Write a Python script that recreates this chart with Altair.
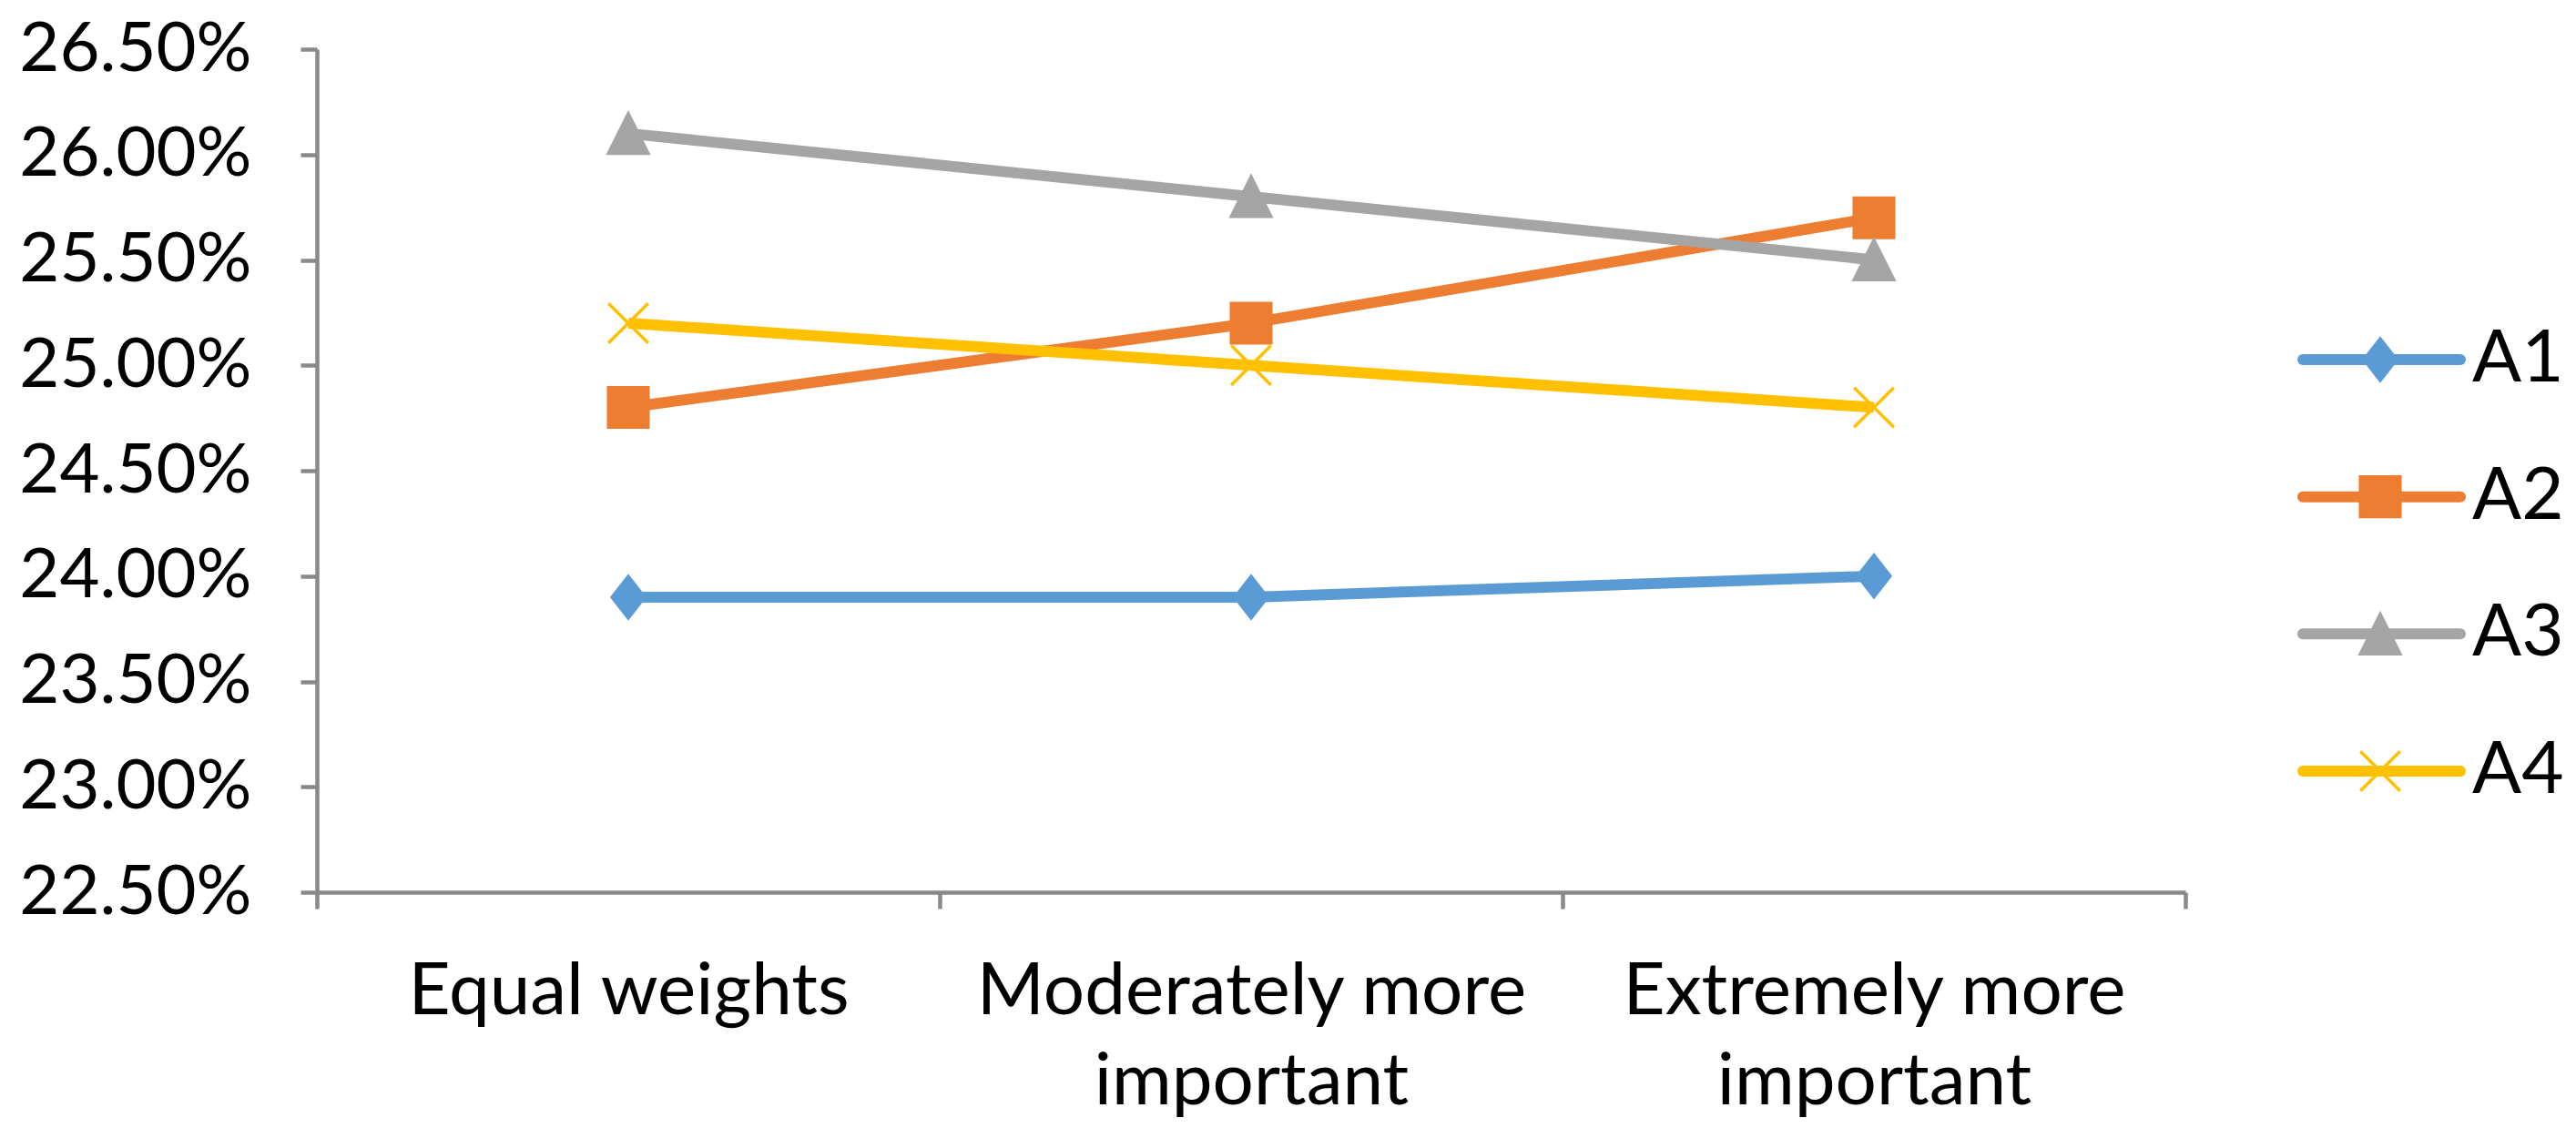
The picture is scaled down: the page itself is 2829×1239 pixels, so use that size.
import altair as alt
import pandas as pd

categories = ["Equal weights", "Moderately more important", "Extremely more important"]
series = ["A1", "A2", "A3", "A4"]
a1 = [0.239, 0.239, 0.240]
a2 = [0.248, 0.252, 0.257]
a3 = [0.261, 0.258, 0.255]
a4 = [0.252, 0.250, 0.248]
y_ticks = [0.225, 0.230, 0.235, 0.240, 0.245, 0.250, 0.255, 0.260, 0.265]

colors = ["#5B9BD5", "#ED7D31", "#A5A5A5", "#FFC000"]
shapes = [
    "M0,-1.05L0.82,0L0,1.05L-0.82,0Z",
    "square",
    "M0,-1L1,1L-1,1Z",
    "M-1,-1L1,1M-1,1L1,-1",
]

rows = []
for s, vals in zip(series, [a1, a2, a3, a4]):
    for c, v in zip(categories, vals):
        rows.append({"Category": c, "Series": s, "Value": v})
df = pd.DataFrame(rows)
legend_df = pd.DataFrame({"Series": series})

FONT = "Lato"
AXIS_GRAY = "#898989"

color_enc = alt.Color("Series:N", scale=alt.Scale(domain=series, range=colors), legend=None)
stroke_enc = alt.Stroke("Series:N", scale=alt.Scale(domain=series, range=colors), legend=None)
shape_enc = alt.Shape("Series:N", scale=alt.Scale(domain=series, range=shapes), legend=None)

x_enc = alt.X(
    "Category:N",
    sort=categories,
    bandPosition=0.5,
    scale=alt.Scale(type="band", domain=categories, paddingInner=0, paddingOuter=0),
    axis=alt.Axis(
        title=None,
        tickBand="extent",
        labelAngle=0,
        labelExpr="split(replace(datum.label, ' more ', ' more|'), '|')",
        labelFont=FONT,
        labelFontSize=80,
        labelColor="black",
        labelPadding=52,
        labelLineHeight=99,
        labelBaseline="top",
        labelLimit=2000,
        labelOverlap=False,
        tickSize=18,
        tickColor=AXIS_GRAY,
        tickWidth=4.5,
        domainColor=AXIS_GRAY,
        domainWidth=4.5,
        grid=False,
    ),
)

y_enc = alt.Y(
    "Value:Q",
    scale=alt.Scale(domain=[0.225, 0.265], nice=False, zero=False),
    axis=alt.Axis(
        title=None,
        values=y_ticks,
        format=".2%",
        grid=False,
        labelFont=FONT,
        labelFontSize=76,
        labelColor="black",
        labelPadding=54,
        labelLimit=2000,
        labelOverlap=False,
        tickSize=18,
        tickColor=AXIS_GRAY,
        tickWidth=4.5,
        domainColor=AXIS_GRAY,
        domainWidth=4.5,
    ),
)

lines = alt.Chart(df).mark_line(strokeWidth=12, strokeJoin="round").encode(
    x=x_enc, y=y_enc, color=color_enc
)
points = alt.Chart(df).mark_point(filled=True, size=1900, strokeWidth=3.5, opacity=1).encode(
    x=x_enc, y=y_enc, color=color_enc, stroke=stroke_enc, shape=shape_enc
)
main = alt.layer(lines, points)

leg_y = alt.Y(
    "Series:N",
    scale=alt.Scale(type="point", domain=series, range=[341, 793], padding=0),
    axis=None,
)
leg_rule = alt.Chart(legend_df).mark_rule(strokeWidth=12, strokeCap="round").encode(
    x=alt.value(2181), x2=alt.value(2354), y=leg_y, color=color_enc
)
leg_pts = alt.Chart(legend_df).mark_point(filled=True, size=1900, strokeWidth=3.5, opacity=1).encode(
    x=alt.value(2266), y=leg_y, color=color_enc, stroke=stroke_enc, shape=shape_enc
)
leg_txt = alt.Chart(legend_df).mark_text(
    align="left", baseline="middle", font=FONT, fontSize=80, color="black"
).encode(x=alt.value(2367), y=leg_y, text="Series:N")
legend = alt.layer(leg_rule, leg_pts, leg_txt)

chart = (
    alt.layer(main, legend)
    .resolve_scale(y="independent")
    .properties(
        width=2052,
        height=926,
        padding={"left": 340, "top": 46, "right": 421, "bottom": 251},
        autosize=alt.AutoSizeParams(type="none"),
        background="white",
    )
    .configure_view(stroke=None)
)

chart.save("out.html", embed_options={"renderer": "svg", "actions": False})
